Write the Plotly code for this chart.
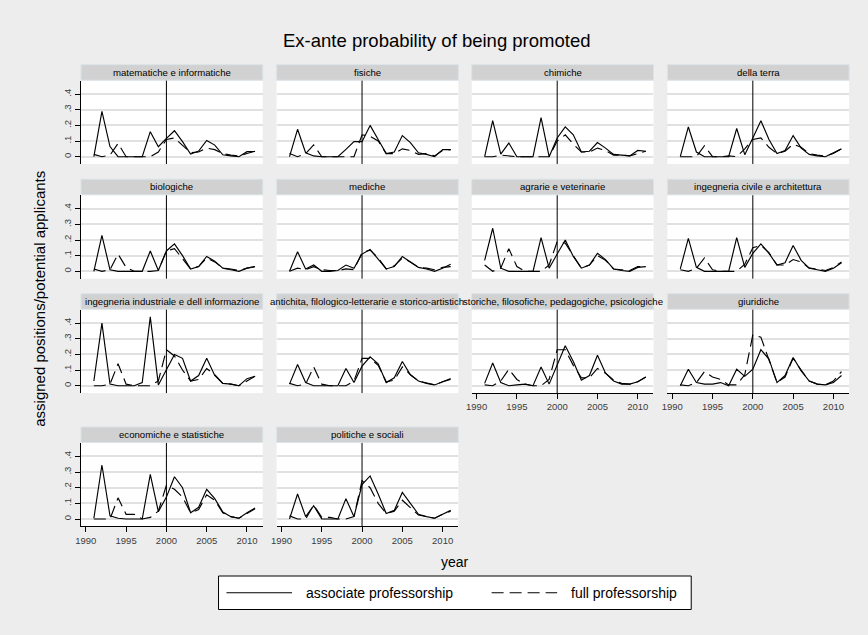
import plotly.graph_objects as go

W, H = 868, 635

# ---- data -------------------------------------------------------------
years = list(range(1991, 2012))
x_ticks = [1990, 1995, 2000, 2005, 2010]
y_ticks = [0, 0.1, 0.2, 0.3, 0.4]
y_tick_text = ["0", ".1", ".2", ".3", ".4"]
reform_year = 2000

fields = [
    "matematiche e informatiche",
    "fisiche",
    "chimiche",
    "della terra",
    "biologiche",
    "mediche",
    "agrarie e veterinarie",
    "ingegneria civile e architettura",
    "ingegneria industriale e dell informazione",
    "antichita, filologico-letterarie e storico-artistich",
    "storiche, filosofiche, pedagogiche, psicologiche",
    "giuridiche",
    "economiche e statistiche",
    "politiche e sociali",
]

assoc_mat = [0.0, 0.29, 0.065, 0.0, 0.0, 0.0, 0.0, 0.16, 0.064, 0.117, 0.166, 0.096, 0.017, 0.036, 0.104, 0.074, 0.012, 0.005, 0.0, 0.032, 0.033]
full_mat = [0.015, 0.0, 0.01, 0.085, 0.0, 0.0, 0.0, 0.0, 0.03, 0.11, 0.12, 0.07, 0.025, 0.03, 0.055, 0.045, 0.02, 0.01, 0.005, 0.02, 0.035]

assoc_fis = [0.0, 0.175, 0.025, 0.005, 0.0, 0.0, 0.0, 0.047, 0.096, 0.096, 0.2, 0.11, 0.02, 0.03, 0.135, 0.09, 0.025, 0.015, 0.0, 0.045, 0.045]
full_fis = [0.02, 0.0, 0.02, 0.075, 0.0, 0.0, 0.0, 0.0, 0.0, 0.14, 0.13, 0.1, 0.02, 0.02, 0.05, 0.04, 0.015, 0.02, 0.005, 0.04, 0.045]

assoc_chi = [0.0, 0.23, 0.017, 0.087, 0.0, 0.0, 0.0, 0.25, 0.0, 0.12, 0.19, 0.14, 0.03, 0.035, 0.09, 0.055, 0.015, 0.01, 0.005, 0.04, 0.035]
full_chi = [0.0, 0.0, 0.01, 0.005, 0.0, 0.0, 0.0, 0.0, 0.0, 0.1, 0.14, 0.08, 0.03, 0.03, 0.055, 0.04, 0.01, 0.01, 0.005, 0.02, 0.035]

assoc_ter = [0.0, 0.19, 0.03, 0.0, 0.0, 0.0, 0.0, 0.18, 0.013, 0.12, 0.23, 0.11, 0.02, 0.04, 0.135, 0.055, 0.015, 0.005, 0.0, 0.025, 0.05]
full_ter = [0.0, 0.0, 0.0, 0.07, 0.0, 0.0, 0.005, 0.0, 0.05, 0.11, 0.12, 0.06, 0.02, 0.035, 0.08, 0.06, 0.02, 0.01, 0.005, 0.02, 0.05]

assoc_bio = [0.0, 0.23, 0.01, 0.0, 0.0, 0.0, 0.0, 0.13, 0.005, 0.13, 0.175, 0.1, 0.015, 0.03, 0.095, 0.065, 0.02, 0.01, 0.0, 0.02, 0.03]
full_bio = [0.015, 0.0, 0.01, 0.11, 0.025, 0.0, 0.0, 0.0, 0.005, 0.13, 0.145, 0.08, 0.015, 0.03, 0.085, 0.06, 0.02, 0.015, 0.005, 0.02, 0.03]

assoc_med = [0.0, 0.125, 0.015, 0.04, 0.0, 0.0, 0.005, 0.04, 0.02, 0.11, 0.14, 0.08, 0.015, 0.03, 0.095, 0.06, 0.025, 0.015, 0.0, 0.02, 0.045]
full_med = [0.0, 0.02, 0.01, 0.03, 0.01, 0.005, 0.005, 0.015, 0.01, 0.12, 0.135, 0.085, 0.015, 0.035, 0.085, 0.06, 0.025, 0.02, 0.01, 0.025, 0.03]

assoc_agr = [0.07, 0.275, 0.02, 0.0, 0.0, 0.0, 0.0, 0.215, 0.02, 0.11, 0.2, 0.095, 0.02, 0.04, 0.115, 0.075, 0.015, 0.005, 0.0, 0.025, 0.03]
full_agr = [0.04, 0.0, 0.02, 0.145, 0.03, 0.0, 0.0, 0.0, 0.04, 0.19, 0.18, 0.1, 0.02, 0.04, 0.1, 0.07, 0.015, 0.01, 0.005, 0.03, 0.03]

assoc_civ = [0.015, 0.21, 0.025, 0.0, 0.0, 0.0, 0.0, 0.215, 0.025, 0.115, 0.175, 0.115, 0.04, 0.055, 0.165, 0.07, 0.02, 0.01, 0.0, 0.02, 0.055]
full_civ = [0.01, 0.0, 0.02, 0.085, 0.01, 0.0, 0.0, 0.0, 0.045, 0.15, 0.165, 0.12, 0.04, 0.04, 0.075, 0.06, 0.02, 0.015, 0.005, 0.025, 0.06]

assoc_ind = [0.03, 0.4, 0.01, 0.0, 0.0, 0.0, 0.02, 0.44, 0.005, 0.1, 0.2, 0.175, 0.03, 0.065, 0.175, 0.065, 0.015, 0.01, 0.0, 0.045, 0.06]
full_ind = [0.0, 0.0, 0.01, 0.14, 0.01, 0.0, 0.0, 0.0, 0.03, 0.23, 0.19, 0.1, 0.03, 0.04, 0.11, 0.07, 0.015, 0.01, 0.0, 0.03, 0.06]

assoc_ant = [0.01, 0.135, 0.02, 0.0, 0.0, 0.0, 0.0, 0.11, 0.02, 0.125, 0.185, 0.14, 0.02, 0.05, 0.155, 0.07, 0.03, 0.015, 0.005, 0.025, 0.045]
full_ant = [0.015, 0.0, 0.01, 0.12, 0.01, 0.0, 0.0, 0.0, 0.03, 0.175, 0.175, 0.13, 0.025, 0.035, 0.12, 0.07, 0.03, 0.015, 0.005, 0.025, 0.04]

assoc_sto = [0.015, 0.145, 0.02, 0.0, 0.005, 0.01, 0.0, 0.12, 0.01, 0.13, 0.255, 0.155, 0.035, 0.065, 0.195, 0.08, 0.03, 0.01, 0.01, 0.025, 0.055]
full_sto = [0.005, 0.0, 0.03, 0.105, 0.04, 0.01, 0.0, 0.0, 0.04, 0.23, 0.23, 0.13, 0.05, 0.05, 0.11, 0.08, 0.035, 0.015, 0.01, 0.025, 0.055]

assoc_giu = [0.0, 0.105, 0.02, 0.01, 0.01, 0.02, 0.0, 0.105, 0.06, 0.105, 0.23, 0.17, 0.02, 0.065, 0.18, 0.095, 0.03, 0.01, 0.005, 0.02, 0.065]
full_giu = [0.005, 0.0, 0.02, 0.09, 0.055, 0.04, 0.005, 0.005, 0.07, 0.325, 0.31, 0.165, 0.02, 0.055, 0.175, 0.1, 0.03, 0.01, 0.005, 0.03, 0.09]

assoc_eco = [0.005, 0.345, 0.02, 0.005, 0.0, 0.0, 0.0, 0.285, 0.047, 0.14, 0.27, 0.2, 0.04, 0.075, 0.19, 0.13, 0.045, 0.015, 0.005, 0.04, 0.07]
full_eco = [0.0, 0.0, 0.0, 0.135, 0.03, 0.03, 0.0, 0.01, 0.05, 0.215, 0.19, 0.14, 0.04, 0.06, 0.155, 0.12, 0.04, 0.015, 0.005, 0.035, 0.065]

assoc_pol = [0.0, 0.16, 0.015, 0.085, 0.0, 0.0, 0.0, 0.13, 0.015, 0.22, 0.275, 0.16, 0.035, 0.055, 0.17, 0.1, 0.03, 0.015, 0.005, 0.03, 0.055]
full_pol = [0.02, 0.0, 0.0, 0.09, 0.01, 0.01, 0.0, 0.0, 0.015, 0.245, 0.2, 0.1, 0.035, 0.05, 0.12, 0.075, 0.025, 0.015, 0.005, 0.03, 0.05]

associate = [assoc_mat, assoc_fis, assoc_chi, assoc_ter, assoc_bio, assoc_med, assoc_agr,
             assoc_civ, assoc_ind, assoc_ant, assoc_sto, assoc_giu, assoc_eco, assoc_pol]
full = [full_mat, full_fis, full_chi, full_ter, full_bio, full_med, full_agr,
        full_civ, full_ind, full_ant, full_sto, full_giu, full_eco, full_pol]

series_names = ["associate professorship", "full professorship"]

# ---- layout geometry (pixels) -----------------------------------------
FONT = "Liberation Sans, Arial, sans-serif"
BG = "#EDEDED"
col_left = [75.5, 272.5, 469.0, 666.0]
col_width = 183.0
row_zero = [156.7, 271.3, 385.7, 519.0]
px_per_unit = 156.5
y_lo, y_hi = -0.047, 0.486
x_lo, x_hi = 1989.4, 2011.95
strip_h = 15.5
bottom_axis_panels = {10, 11, 12, 13}
DASH = "12px,6px"


def fx(px):
    return px / W


def fy(py):
    return 1 - py / H


fig = go.Figure()
layout = {}
shapes = []
annotations = []

for i, name in enumerate(fields):
    r, c = divmod(i, 4)
    k = "" if i == 0 else str(i + 1)
    left = col_left[c]
    right = left + col_width
    top = row_zero[r] - y_hi * px_per_unit
    bottom = row_zero[r] - y_lo * px_per_unit

    fig.add_trace(go.Scatter(
        x=years, y=associate[i], mode="lines", name=series_names[0],
        line=dict(color="black", width=1.15), showlegend=False,
        xaxis="x" + k, yaxis="y" + k, hoverinfo="skip"))
    fig.add_trace(go.Scatter(
        x=years, y=full[i], mode="lines", name=series_names[1],
        line=dict(color="black", width=1.15, dash=DASH), showlegend=False,
        xaxis="x" + k, yaxis="y" + k, hoverinfo="skip"))

    has_x = i in bottom_axis_panels
    has_y = c == 0
    layout["xaxis" + k] = dict(
        domain=[fx(left), fx(right)], range=[x_lo, x_hi], anchor="y" + k,
        showgrid=False, zeroline=False,
        showline=has_x, linecolor="black", linewidth=1,
        ticks="outside" if has_x else "", ticklen=5, tickcolor="black", tickwidth=1,
        tickvals=x_ticks, showticklabels=has_x,
        tickfont=dict(family=FONT, size=9.5, color="#3c3c3c"),
    )
    layout["yaxis" + k] = dict(
        domain=[fy(bottom), fy(top)], range=[y_lo, y_hi], anchor="x" + k,
        showgrid=True, gridcolor="#E1E1E1", gridwidth=1.5, zeroline=False,
        showline=has_y, linecolor="black", linewidth=1,
        ticks="outside" if has_y else "", ticklen=5, tickcolor="black", tickwidth=1,
        tickvals=y_ticks, ticktext=y_tick_text, showticklabels=has_y,
        tickangle=-90, tickfont=dict(family=FONT, size=9.5, color="#3c3c3c"),
    )

    # reference line at the reform year
    shapes.append(dict(type="line", xref="x" + k, yref="y" + k + " domain",
                       x0=reform_year, x1=reform_year, y0=0, y1=1,
                       line=dict(color="black", width=1)))
    # panel title strip
    s_top = top - strip_h - 0.5
    s_bot = top - 0.5
    shapes.append(dict(type="rect", xref="paper", yref="paper",
                       x0=fx(left), x1=fx(right), y0=fy(s_bot), y1=fy(s_top),
                       fillcolor="#D1D1D1", line=dict(color="#DAE3E8", width=1),
                       layer="below"))
    annotations.append(dict(xref="paper", yref="paper",
                            x=fx((left + right) / 2), y=fy((s_top + s_bot) / 2),
                            text=name, showarrow=False, xanchor="center", yanchor="middle",
                            font=dict(family=FONT, size=9.6, color="black")))

# overall titles
annotations.append(dict(xref="paper", yref="paper", x=fx(434), y=fy(40),
                        text="Ex-ante probability of being promoted", showarrow=False,
                        xanchor="center", yanchor="middle",
                        font=dict(family=FONT, size=18.5, color="black")))
annotations.append(dict(xref="paper", yref="paper", x=fx(33), y=fy(299),
                        text="assigned positions/potential applicants", showarrow=False,
                        textangle=-90, xanchor="center", yanchor="middle",
                        font=dict(family=FONT, size=15, color="black")))
annotations.append(dict(xref="paper", yref="paper", x=fx(452), y=fy(562),
                        text="year", showarrow=False, xanchor="center", yanchor="middle",
                        font=dict(family=FONT, size=14, color="black")))

# legend box
leg_top, leg_bot = 576.0, 609.5
leg_mid = (leg_top + leg_bot) / 2
shapes.append(dict(type="rect", xref="paper", yref="paper",
                   x0=fx(214), x1=fx(690), y0=fy(leg_bot), y1=fy(leg_top),
                   fillcolor="white", line=dict(color="black", width=1)))
shapes.append(dict(type="line", xref="paper", yref="paper",
                   x0=fx(222), x1=fx(288), y0=fy(leg_mid), y1=fy(leg_mid),
                   line=dict(color="black", width=1.15)))
shapes.append(dict(type="line", xref="paper", yref="paper",
                   x0=fx(489), x1=fx(555), y0=fy(leg_mid), y1=fy(leg_mid),
                   line=dict(color="black", width=1.15, dash=DASH)))
annotations.append(dict(xref="paper", yref="paper", x=fx(300), y=fy(leg_mid),
                        text=series_names[0], showarrow=False,
                        xanchor="left", yanchor="middle",
                        font=dict(family=FONT, size=14, color="black")))
annotations.append(dict(xref="paper", yref="paper", x=fx(567), y=fy(leg_mid),
                        text=series_names[1], showarrow=False,
                        xanchor="left", yanchor="middle",
                        font=dict(family=FONT, size=14, color="black")))

fig.update_layout(
    width=W, height=H, autosize=False,
    margin=dict(l=0, r=0, t=0, b=0, pad=0),
    paper_bgcolor=BG, plot_bgcolor="white",
    showlegend=False,
    shapes=shapes, annotations=annotations,
    font=dict(family=FONT, color="black"),
    **layout,
)

fig.write_html("out.html")
